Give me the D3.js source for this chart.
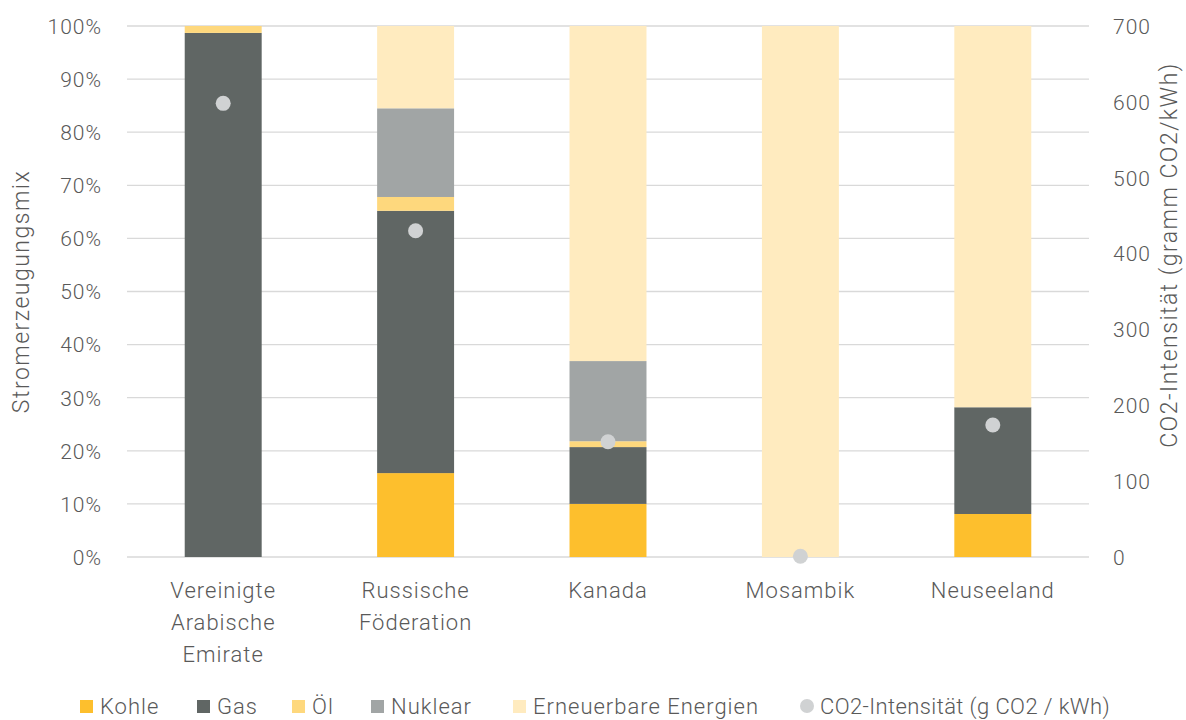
<!DOCTYPE html>
<html>
<head>
<meta charset="utf-8">
<script src="https://cdn.jsdelivr.net/npm/d3@7"></script>
<style>
  html, body { margin: 0; padding: 0; background: #fff; }
  svg text { font-family: "Roboto", "DejaVu Sans", sans-serif; font-weight: 300; fill: #595959; letter-spacing: 1px; }
</style>
</head>
<body>
<svg id="chart" width="1186" height="720"></svg>
<script>
// Länder (Kategorien)
const countries = [
  ["Vereinigte", "Arabische", "Emirate"],
  ["Russische", "Föderation"],
  ["Kanada"],
  ["Mosambik"],
  ["Neuseeland"]
];

// Anteile am Strommix in %
const kohle       = [0,    15.8, 10.0, 0,   8.1];
const gas         = [98.7, 49.4, 10.7, 0,  20.1];
const oel         = [1.3,  2.6,  1.1,  0,   0];
const nuklear     = [0,    16.7, 15.1, 0,   0];
const erneuerbare = [0,    15.5, 63.1, 100, 71.8];

// CO2-Intensität in g CO2 / kWh
const co2 = [598, 430, 152, 1, 174];

const seriesNames  = ["Kohle", "Gas", "Öl", "Nuklear", "Erneuerbare Energien"];
const seriesColors = ["#FDBF2D", "#606664", "#FED87D", "#A1A5A5", "#FFEBBF"];
const co2Name  = "CO2-Intensität (g CO2 / kWh)";
const co2Color = "#D0D2D3";

const leftTicks  = [0, 10, 20, 30, 40, 50, 60, 70, 80, 90, 100];
const rightTicks = [0, 100, 200, 300, 400, 500, 600, 700];

const svg = d3.select("#chart");
const plot = { left: 127, right: 1089, top: 26, bottom: 557 };

const x = d3.scaleBand()
  .domain(d3.range(countries.length))
  .range([plot.left, plot.right])
  .paddingInner(0.6)
  .paddingOuter(0.3);

const yL = d3.scaleLinear().domain([0, 100]).range([plot.bottom, plot.top]);
const yR = d3.scaleLinear().domain([0, 700]).range([plot.bottom, plot.top]);

// Gitternetzlinien
svg.append("g")
  .selectAll("line")
  .data(leftTicks)
  .join("line")
  .attr("x1", plot.left).attr("x2", plot.right)
  .attr("y1", d => yL(d)).attr("y2", d => yL(d))
  .attr("stroke", "#D9D9D9")
  .attr("stroke-width", d => d === 0 ? 1.5 : 1.3);

// Gestapelte Balken
const rows = countries.map((c, i) => ({
  i,
  "Kohle": kohle[i], "Gas": gas[i], "Öl": oel[i],
  "Nuklear": nuklear[i], "Erneuerbare Energien": erneuerbare[i]
}));
const stack = d3.stack().keys(seriesNames)(rows);

svg.append("g")
  .selectAll("g")
  .data(stack)
  .join("g")
  .attr("fill", (d, k) => seriesColors[k])
  .selectAll("rect")
  .data(d => d)
  .join("rect")
  .attr("x", d => x(d.data.i))
  .attr("width", x.bandwidth())
  .attr("y", d => yL(d[1]))
  .attr("height", d => Math.max(0, yL(d[0]) - yL(d[1])));

// CO2-Punkte
svg.append("g")
  .selectAll("circle")
  .data(co2)
  .join("circle")
  .attr("cx", (d, i) => x(i) + x.bandwidth() / 2)
  .attr("cy", d => yR(d))
  .attr("r", 7.5)
  .attr("fill", co2Color);

// Linke Achse
const axL = d3.axisLeft(yL).tickValues(leftTicks).tickFormat(d => d + "%").tickSize(0).tickPadding(25);
const gL = svg.append("g").attr("transform", `translate(${plot.left},0)`).call(axL);
gL.select(".domain").remove();
gL.selectAll("text").attr("font-size", 21).attr("dy", "0.35em")
  .style("font-family", "Roboto, sans-serif").attr("fill", "#595959");

// Rechte Achse
const axR = d3.axisRight(yR).tickValues(rightTicks).tickSize(0).tickPadding(24);
const gR = svg.append("g").attr("transform", `translate(${plot.right},0)`).call(axR);
gR.select(".domain").remove();
gR.selectAll("text").attr("font-size", 21).attr("dy", "0.35em")
  .style("font-family", "Roboto, sans-serif").attr("fill", "#595959");

// Kategorienbeschriftung
const catG = svg.append("g");
countries.forEach((lines, i) => {
  const t = catG.append("text")
    .attr("x", x(i) + x.bandwidth() / 2)
    .attr("y", 598)
    .attr("text-anchor", "middle")
    .attr("font-size", 22);
  lines.forEach((ln, j) => {
    t.append("tspan").attr("x", x(i) + x.bandwidth() / 2).attr("dy", j === 0 ? 0 : 32).text(ln);
  });
});

// Achsentitel
svg.append("text")
  .attr("transform", `translate(29, ${(plot.top + plot.bottom) / 2}) rotate(-90)`)
  .attr("text-anchor", "middle")
  .attr("font-size", 23)
  .style("letter-spacing", "1.5px")
  .text("Stromerzeugungsmix");

svg.append("text")
  .attr("transform", `translate(1177, 255) rotate(-90)`)
  .attr("text-anchor", "middle")
  .attr("font-size", 23)
  .style("letter-spacing", "1.5px")
  .text("CO2-Intensität (gramm CO2/kWh)");

// Legende
const legendY = 706;
const legendItems = [
  { name: "Kohle", color: seriesColors[0], x: 80 },
  { name: "Gas", color: seriesColors[1], x: 197 },
  { name: "Öl", color: seriesColors[2], x: 292 },
  { name: "Nuklear", color: seriesColors[3], x: 371 },
  { name: "Erneuerbare Energien", color: seriesColors[4], x: 513 }
];
const lg = svg.append("g");
legendItems.forEach(it => {
  lg.append("rect").attr("x", it.x).attr("y", legendY - 6).attr("width", 13).attr("height", 13).attr("fill", it.color);
  lg.append("text").attr("x", it.x + 20).attr("y", legendY).attr("dy", "0.35em").attr("font-size", 22).text(it.name);
});
lg.append("circle").attr("cx", 807).attr("cy", legendY).attr("r", 7).attr("fill", co2Color);
lg.append("text").attr("x", 820).attr("y", legendY).attr("dy", "0.35em").attr("font-size", 22)
  .style("letter-spacing", "0.4px").text(co2Name);
</script>
</body>
</html>
